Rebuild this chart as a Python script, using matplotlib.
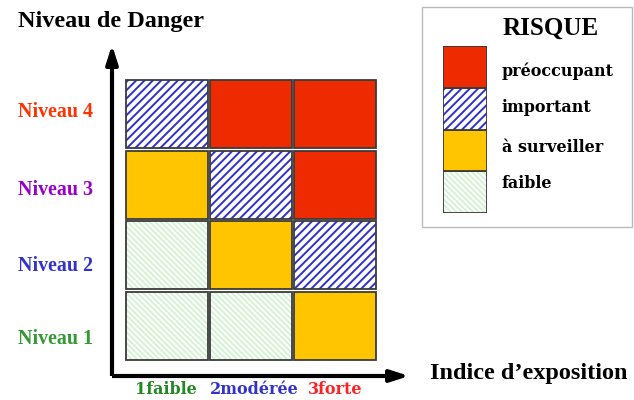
"""
Matrice de risque : niveau de danger x indice d'exposition.
"""
import matplotlib
matplotlib.use("Agg")
import matplotlib.pyplot as plt
from matplotlib.patches import Rectangle

# ==============================================================================
# Data
# ==============================================================================
danger_labels = ['Niveau 1', 'Niveau 2', 'Niveau 3', 'Niveau 4']
danger_colors = ['#339933', '#3333cc', '#9900cc', '#ff3300']
exposure_labels = ['1faible', '2modérée', '3forte']
exposure_colors = ['#228822', '#3333cc', '#ff2222']
risk_names = ['faible', 'à surveiller', 'important', 'préoccupant']

# risk index per cell, rows = Niveau 1..4, cols = exposition 1..3
risk_matrix = [
    [0, 0, 1],
    [0, 1, 2],
    [1, 2, 3],
    [2, 3, 3],
]

# fill / hatch style per risk index
STYLES = {
    0: dict(face='white', hatch='\\' * 6, hcolor='#d3f3d3'),
    1: dict(face='#ffc600', hatch=None, hcolor=None),
    2: dict(face='white', hatch='////', hcolor='#3030c8'),
    3: dict(face='#ee2a00', hatch=None, hcolor=None),
}

W, H = 634, 400
SERIF = ['Liberation Serif', 'DejaVu Serif']
LABEL_FONT = ['DejaVu Serif']

plt.rcParams['hatch.linewidth'] = 1.4


def px_axes(fig, x0, y0, x1, y1):
    """Axes placed from pixel box (top-left origin)."""
    return fig.add_axes([x0 / W, 1 - y1 / H, (x1 - x0) / W, (y1 - y0) / H])


def draw_cell(ax, x, y, w, h, risk):
    st = STYLES[risk]
    if st['hatch']:
        ax.add_patch(Rectangle((x, y), w, h, facecolor=st['face'],
                               edgecolor=st['hcolor'], hatch=st['hatch'], lw=0))
    else:
        ax.add_patch(Rectangle((x, y), w, h, facecolor=st['face'], lw=0))
    ax.add_patch(Rectangle((x, y), w, h, facecolor='none',
                           edgecolor='#3a3a3a', lw=1.3))


fig = plt.figure(figsize=(W / 100, H / 100), dpi=100)

# overlay in pixel coords for arrows / texts
ov = fig.add_axes([0, 0, 1, 1])
ov.set_xlim(0, W)
ov.set_ylim(H, 0)
ov.axis('off')

# ---- risk grid
grid = px_axes(fig, 125, 79, 377, 361)
grid.set_xlim(0, len(exposure_labels))
grid.set_ylim(0, len(danger_labels))
grid.axis('off')
g = 0.012
for r, row in enumerate(risk_matrix):
    for c, risk in enumerate(row):
        draw_cell(grid, c + g, r + g * 1.2, 1 - 2 * g, 1 - 2.4 * g, risk)

# ---- axes arrows
ov.plot([112, 112], [376, 60], color='black', lw=3, solid_capstyle='butt')
ov.plot([112, 395], [376, 376], color='black', lw=3, solid_capstyle='butt')
ov.annotate('', xy=(112, 42), xytext=(112, 70),
            arrowprops=dict(arrowstyle='-|>,head_length=1.1,head_width=0.35',
                            color='black', lw=3))
ov.annotate('', xy=(412, 376), xytext=(385, 376),
            arrowprops=dict(arrowstyle='-|>,head_length=1.1,head_width=0.35',
                            color='black', lw=3))

ov.text(18, 22, 'Niveau de Danger', fontsize=17.5, fontweight='bold',
        family=SERIF, va='center', ha='left')
ov.text(430, 373, 'Indice d\u2019exposition', fontsize=17.5, fontweight='bold',
        family=SERIF, va='center', ha='left')

danger_y = [339, 266, 190, 112]
for lab, col, y in zip(danger_labels, danger_colors, danger_y):
    ov.text(18, y, lab, fontsize=14.4, fontweight='bold', family=SERIF,
            color=col, va='center', ha='left')

exposure_x = [135, 210, 308]
for lab, col, x in zip(exposure_labels, exposure_colors, exposure_x):
    ov.text(x, 390, lab, fontsize=11.5, fontweight='bold', family=LABEL_FONT,
            color=col, va='center', ha='left')

# ---- legend
ov.add_patch(Rectangle((422, 7), 210, 220, facecolor='white',
                       edgecolor='#bbbbbb', lw=1))
ov.text(551, 28, 'RISQUE', fontsize=18, fontweight='bold', family=SERIF,
        va='center', ha='center')

leg = px_axes(fig, 443, 46, 487, 213)
leg.set_xlim(0, 1)
leg.set_ylim(0, len(risk_names))
leg.axis('off')
for i in range(len(risk_names)):
    draw_cell(leg, 0, i, 1, 1, i)

legend_y = [184, 147, 108, 71]
for name, y in zip(risk_names, legend_y):
    ov.text(502, y, name, fontsize=11.5, fontweight='bold', family=LABEL_FONT,
            va='center', ha='left')

fig.savefig('out.png', dpi=100)
